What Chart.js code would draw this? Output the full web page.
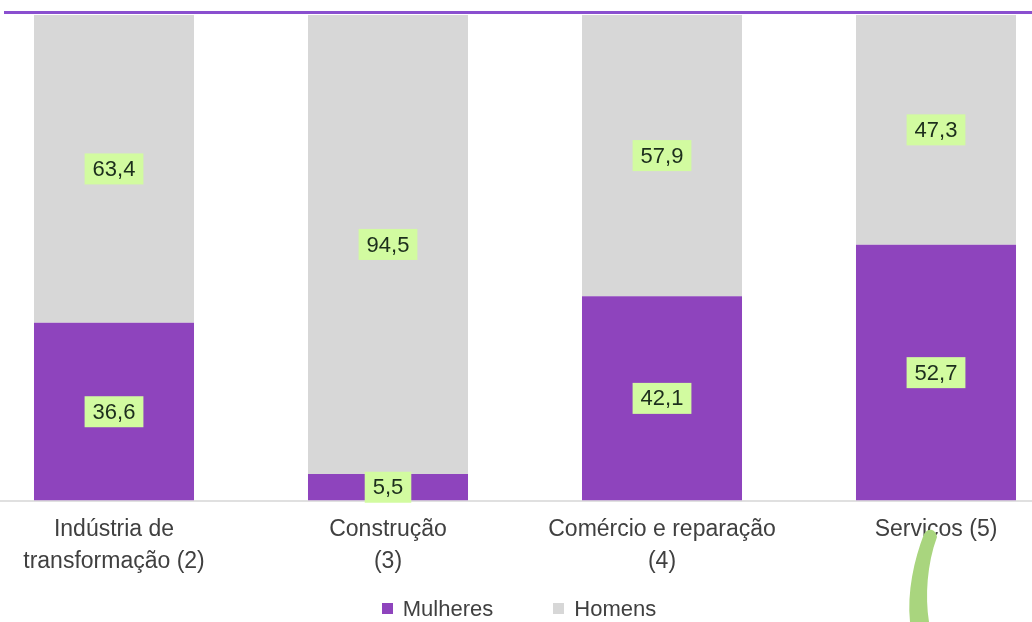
<!DOCTYPE html>
<html>
<head>
<meta charset="utf-8">
<script src="https://cdn.jsdelivr.net/npm/chart.js@4/dist/chart.umd.min.js"></script>
<style>
  html, body { margin: 0; padding: 0; background: #fff; overflow: hidden; }
  body { width: 1032px; height: 622px; position: relative; font-family: "Liberation Sans", Arial, sans-serif; }
  #wrap { position: absolute; left: -23px; top: 0; width: 1096px; height: 622px; }
  #topline { position: absolute; left: 4px; right: 0; top: 11px; height: 3px; background: #8a4fcf; }
  #legend { position: absolute; top: 596px; left: 3px; width: 1032px; text-align: center; font-size: 22px; color: #404040; }
  #legend span.item { display: inline-block; margin: 0 30px; }
  #legend span.box { display: inline-block; width: 11px; height: 11px; margin-right: 10px; vertical-align: 2px; }
  #deco { position: absolute; left: 0; top: 0; pointer-events: none; }
</style>
</head>
<body>
<div id="wrap"><canvas id="chart"></canvas></div>
<div id="topline"></div>
<div id="legend"></div>
<svg id="deco" width="1032" height="622">
  <path d="M 924 534 C 914 560, 907 592, 910 622 L 929 622 C 925 596, 927 564, 937 537 C 936 529, 928 527, 924 534 Z" fill="#a9d57e"/>
</svg>
<script>
// ── Données ───────────────────────────────────────────────
const categories = [
  ["Indústria de", "transformação (2)"],
  ["Construção", "(3)"],
  ["Comércio e reparação", "(4)"],
  ["Serviços (5)"],
];
const mulheres = [36.6, 5.5, 42.1, 52.7];
const homens   = [63.4, 94.5, 57.9, 47.3];

const seriesNames  = ["Mulheres", "Homens"];
const seriesColors = ["#8e44bd", "#d7d7d7"];

// ── Étiquettes de valeurs (fond vert) ─────────────────────
const valueLabels = {
  id: "valueLabels",
  afterDatasetsDraw(chart) {
    const ctx = chart.ctx;
    ctx.save();
    ctx.font = '22px "Liberation Sans", Arial, sans-serif';
    ctx.textAlign = "center";
    ctx.textBaseline = "middle";
    chart.data.datasets.forEach((ds, di) => {
      chart.getDatasetMeta(di).data.forEach((bar, i) => {
        const txt = ds.data[i].toFixed(1).replace(".", ",");
        const cy = (bar.y + bar.base) / 2;
        const w = ctx.measureText(txt).width + 16;
        const h = 31;
        ctx.fillStyle = "#d2fba0";
        ctx.fillRect(bar.x - w / 2, cy - h / 2, w, h);
        ctx.fillStyle = "#1c2e1c";
        ctx.fillText(txt, bar.x, cy + 1);
      });
    });
    ctx.restore();
  },
};

new Chart(document.getElementById("chart"), {
  type: "bar",
  data: {
    labels: categories,
    datasets: [
      { label: seriesNames[0], data: mulheres, backgroundColor: seriesColors[0] },
      { label: seriesNames[1], data: homens,   backgroundColor: seriesColors[1] },
    ],
  },
  options: {
    responsive: true,
    maintainAspectRatio: false,
    animation: false,
    layout: { padding: { top: 15, bottom: 31, left: 0, right: 0 } },
    datasets: { bar: { categoryPercentage: 1, barPercentage: 0.584 } },
    plugins: { legend: { display: false }, tooltip: { enabled: false } },
    scales: {
      x: {
        stacked: true,
        grid: { display: true, drawOnChartArea: false, drawTicks: false, color: "transparent" },
        border: { display: true, color: "#e0e0e0", width: 2 },
        ticks: {
          color: "#404040",
          padding: 13,
          maxRotation: 0,
          autoSkip: false,
          font: { family: '"Liberation Sans", Arial, sans-serif', size: 23, lineHeight: 1.4 },
        },
      },
      y: { stacked: true, display: false, min: 0, max: 100 },
    },
  },
  plugins: [valueLabels],
});

// ── Légende HTML ──────────────────────────────────────────
document.getElementById("legend").innerHTML = seriesNames
  .map((n, i) => `<span class="item"><span class="box" style="background:${seriesColors[i]}"></span>${n}</span>`)
  .join("");
</script>
</body>
</html>
